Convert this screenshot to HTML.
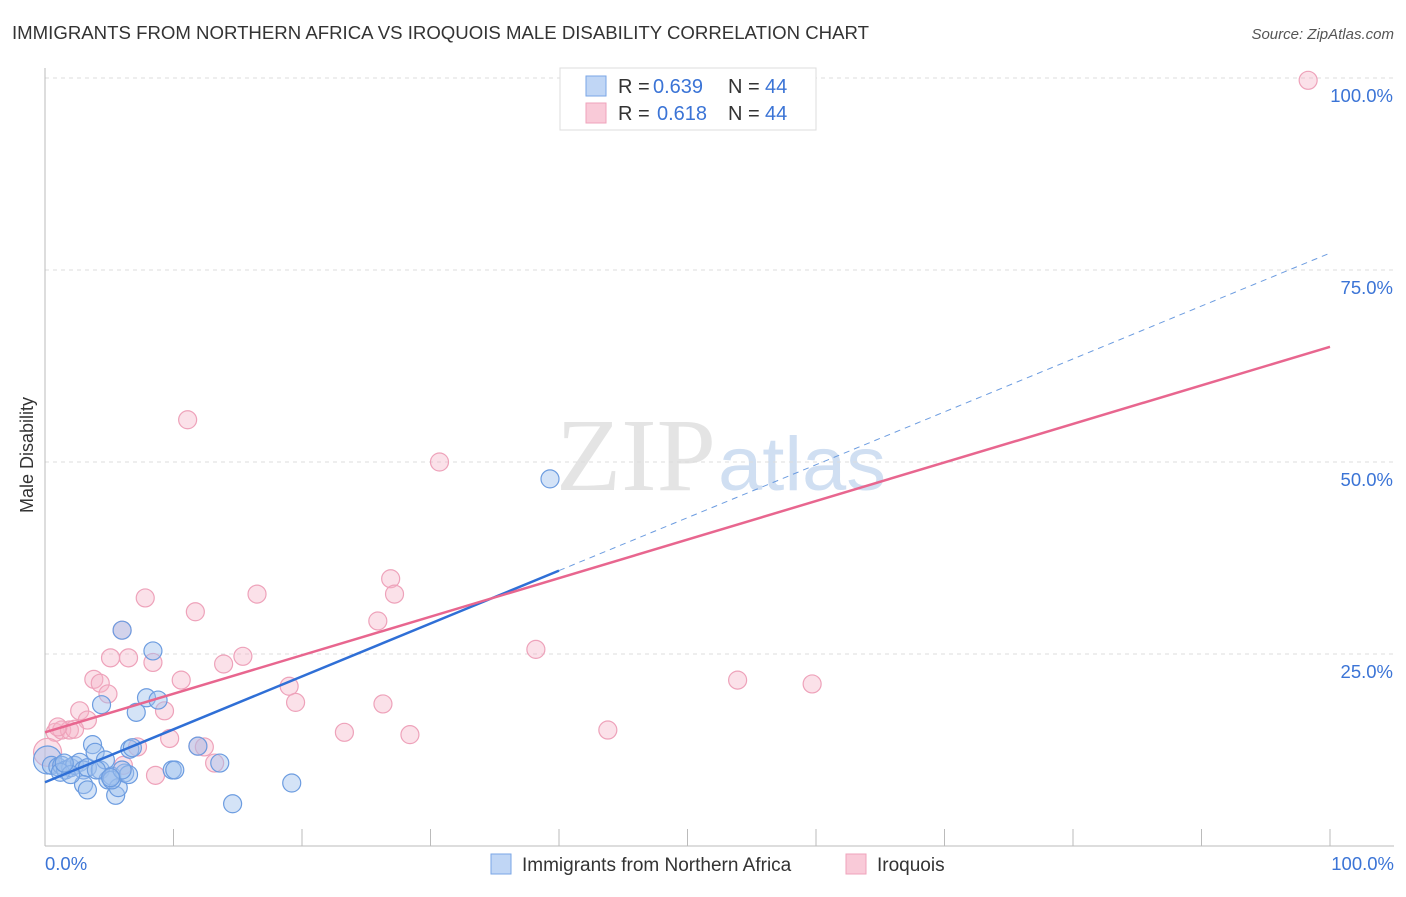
<!DOCTYPE html>
<html><head><meta charset="utf-8"><style>
body{margin:0;background:#fff;font-family:"Liberation Sans",sans-serif;}
</style></head><body>
<svg width="1406" height="892" viewBox="0 0 1406 892" xmlns="http://www.w3.org/2000/svg" font-family="Liberation Sans, sans-serif">
<text x="12" y="39" font-size="18" fill="#333" textLength="857" lengthAdjust="spacingAndGlyphs">IMMIGRANTS FROM NORTHERN AFRICA VS IROQUOIS MALE DISABILITY CORRELATION CHART</text>
<text x="1394" y="39" font-size="15" fill="#555" text-anchor="end" font-style="italic">Source: ZipAtlas.com</text>
<text x="716" y="490" font-size="104" fill="#e4e4e4" text-anchor="end" font-family="Liberation Serif, serif" textLength="160" lengthAdjust="spacingAndGlyphs">ZIP</text>
<text x="718" y="490" font-size="76" fill="#d0dff2" textLength="168" lengthAdjust="spacingAndGlyphs">atlas</text>
<g id="grid"></g>
<g id="axes"></g>
<g id="marks"></g>
<text transform="translate(33,455) rotate(-90)" font-size="18" fill="#333" text-anchor="middle">Male Disability</text>
<g font-size="20" fill="#333">
<rect x="560" y="68" width="256" height="62" fill="#fff" stroke="#ddd"/>
<rect x="586" y="76" width="20" height="20" fill="#c0d6f5" stroke="#7aa6e6"/>
<rect x="586" y="103" width="20" height="20" fill="#f9cad8" stroke="#efa3bb"/>
<text x="618" y="93">R =</text><text x="653" y="93" fill="#3b74d6">0.639</text><text x="728" y="93">N =</text><text x="765" y="93" fill="#3b74d6">44</text>
<text x="618" y="120">R =</text><text x="657" y="120" fill="#3b74d6">0.618</text><text x="728" y="120">N =</text><text x="765" y="120" fill="#3b74d6">44</text>
</g>
<g>
<rect x="491" y="854" width="20" height="20" fill="#c0d6f5" stroke="#7aa6e6"/>
<text x="522" y="871" font-size="19" fill="#333">Immigrants from Northern Africa</text>
<rect x="846" y="854" width="20" height="20" fill="#f9cad8" stroke="#efa3bb"/>
<text x="877" y="871" font-size="19" fill="#333">Iroquois</text>
</g>
</svg>
<script>
const yTicks=[25,50,75,100];
const yTickLabels=["25.0%","50.0%","75.0%","100.0%"];
const xTickLabels=["0.0%","100.0%"];
const blueX=[0.2,0.5,1,1.3,1.6,2,2.3,2.7,3,3.3,3.7,3.9,4.3,4.4,4.7,4.9,5.2,5.5,5.7,6,6.2,6.5,6.6,7.1,7.9,8.4,8.8,9.9,10.1,11.9,13.6,14.6,19.2,39.3,3,3.3,5.2,6,1.2,6.8,4,2,5.1,1.5];
const blueY=[11.2,10.5,10.3,10.5,9.9,10.2,10.5,10.9,9.9,10.2,13.2,12.2,9.9,18.4,11.2,8.6,9.1,6.6,7.6,28.1,9.5,9.3,12.6,17.4,19.3,25.4,19,9.9,9.9,13,10.8,5.5,8.2,47.8,8,7.3,8.6,9.9,9.6,12.8,9.9,9.3,8.9,10.8];
const pinkX=[98.3,11.1,30.7,26.9,27.2,7.8,11.7,16.5,25.9,38.2,6,8.4,6.5,5.1,3.8,4.3,4.9,10.6,13.9,15.4,19,19.5,26.3,53.9,59.7,2.7,3.3,9.3,0.8,1.3,1.9,2.3,1,23.3,28.4,43.8,7.2,11.9,12.4,9.7,6.1,8.6,13.2,0.2];
const pinkY=[99.7,55.5,50,34.8,32.8,32.3,30.5,32.8,29.3,25.6,28.1,23.9,24.5,24.5,21.7,21.2,19.8,21.6,23.7,24.7,20.8,18.7,18.5,21.6,21.1,17.6,16.4,17.6,14.8,15.1,15.1,15.2,15.5,14.8,14.5,15.1,12.9,13,12.9,14,10.5,9.2,10.8,12.2];
const blueLine=[8.3,77.2], pinkLine=[14.8,65.0], blueSolidEnd=40;
const NS="http://www.w3.org/2000/svg";
const X=v=>45+v*12.85, Y=v=>846-v*7.68;
function mk(t,a,p){const e=document.createElementNS(NS,t);for(const k in a)e.setAttribute(k,a[k]);p.appendChild(e);return e;}
const grid=document.getElementById('grid'),axes=document.getElementById('axes'),marks=document.getElementById('marks');
yTicks.forEach((t,i)=>{
 const l=mk('line',{x1:45,x2:1394,y1:Y(t),y2:Y(t),stroke:'#ddd','stroke-dasharray':'4,4'},grid);
 
 
 const tx=mk('text',{x:1393,y:Y(t)+24,'font-size':18.5,fill:'#3b74d6','text-anchor':'end'},grid);
 tx.textContent=yTickLabels[i];
 
 
});
const ya=mk('line',{x1:45,x2:45,y1:68,y2:846,stroke:'#bbb'},axes);


const xa=mk('line',{x1:45,x2:1394,y1:846,y2:846,stroke:'#bbb'},axes);


for(let i=0;i<=10;i++){const t=mk('line',{x1:X(i*10),x2:X(i*10),y1:829,y2:846,stroke:'#bbb'},axes);
 
 }
[[0,45,'start'],[1,1394,'end']].forEach(([i,x,a])=>{const t=mk('text',{x:x,y:870,'font-size':18.5,fill:'#3b74d6','text-anchor':a},axes);t.textContent=xTickLabels[i];
 
 });
function pts(xs,ys,fill,stroke,name){xs.forEach((x,i)=>{const r=(i===0&&x<1)||(name==='pink-point'&&i===xs.length-1)?14:9;
 const c=mk('circle',{cx:X(x),cy:Y(ys[i]),r:r,fill:fill,stroke:stroke,'stroke-width':1.2},marks);
 
 });}
pts(pinkX,pinkY,'rgba(246,180,200,0.4)','#eea2ba','pink-point');
pts(blueX,blueY,'rgba(160,192,238,0.45)','#6c9ce0','blue-point');
const by=x=>blueLine[0]+(blueLine[1]-blueLine[0])*x/100, py=x=>pinkLine[0]+(pinkLine[1]-pinkLine[0])*x/100;
const bl=mk('line',{x1:X(0),y1:Y(by(0)),x2:X(blueSolidEnd),y2:Y(by(blueSolidEnd)),stroke:'#2f6fd6','stroke-width':2.5},marks);


const bd=mk('line',{x1:X(blueSolidEnd),y1:Y(by(blueSolidEnd)),x2:X(100),y2:Y(by(100)),stroke:'#6c9ce0','stroke-width':1,'stroke-dasharray':'6,5'},marks);


const pl=mk('line',{x1:X(0),y1:Y(py(0)),x2:X(100),y2:Y(py(100)),stroke:'#e8668f','stroke-width':2.5},marks);


</script>
</body></html>
